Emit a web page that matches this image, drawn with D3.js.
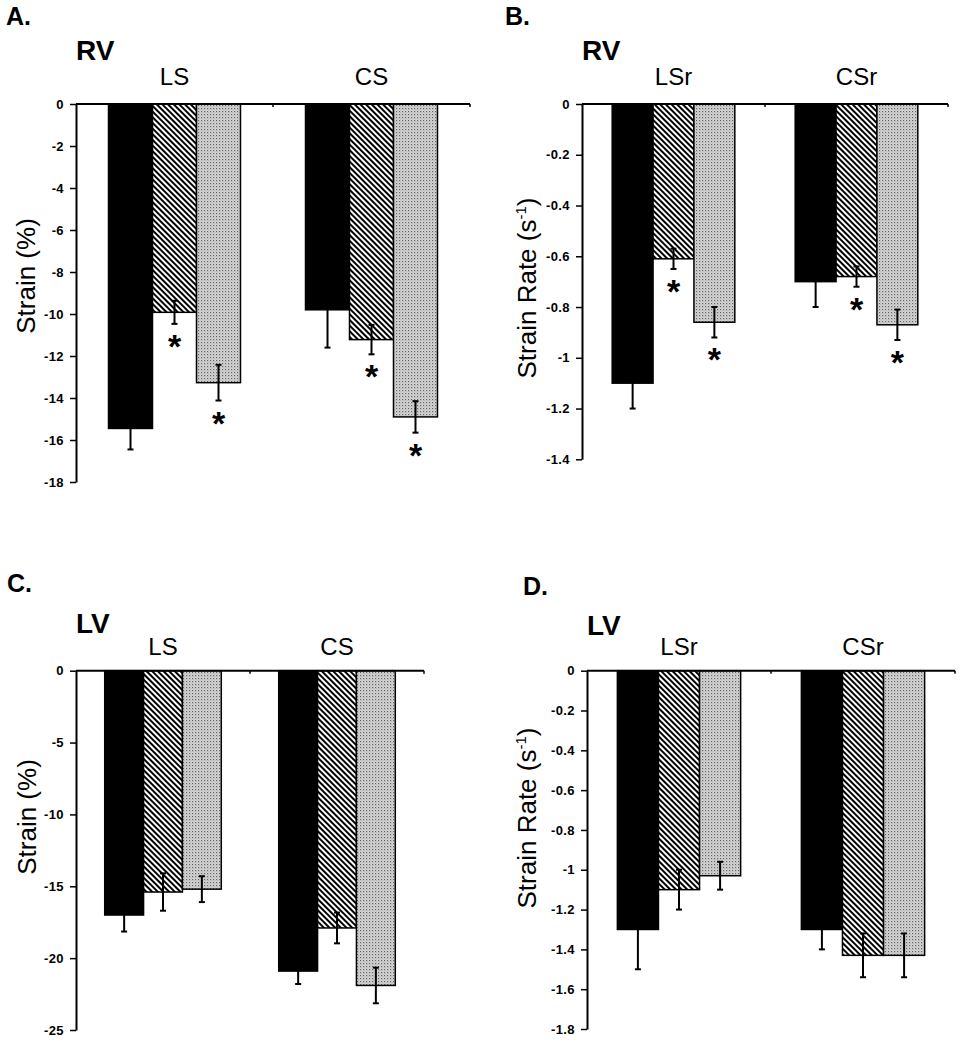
<!DOCTYPE html>
<html><head><meta charset="utf-8">
<script src="https://cdn.jsdelivr.net/npm/d3@7"></script>
<style>
body{margin:0;background:#fff}
svg{display:block}
text{font-family:"Liberation Sans", Arial, Helvetica, sans-serif;fill:#000}
</style>
</head><body>
<svg id="chart" width="963" height="1050"></svg>
<script>
// ---- data ----
const seriesKeys = ["black", "hatched", "dotted"];

const catsA = ["LS", "CS"];
const valsA = [[-15.45, -9.92, -13.27], [-9.8, -11.22, -14.9]];
const errA  = [[1.0, 0.55, 0.85], [1.8, 0.7, 0.75]];
const starA = [[0, 1, 1], [0, 1, 1]];
const ticksA = [0, -2, -4, -6, -8, -10, -12, -14, -16, -18];
const tickLabelsA = ["0", "-2", "-4", "-6", "-8", "-10", "-12", "-14", "-16", "-18"];

const catsB = ["LSr", "CSr"];
const valsB = [[-1.1, -0.61, -0.86], [-0.70, -0.68, -0.87]];
const errB  = [[0.1, 0.04, 0.06], [0.1, 0.04, 0.06]];
const starB = [[0, 1, 1], [0, 1, 1]];
const ticksB = [0, -0.2, -0.4, -0.6, -0.8, -1, -1.2, -1.4];
const tickLabelsB = ["0", "-0.2", "-0.4", "-0.6", "-0.8", "-1", "-1.2", "-1.4"];

const catsC = ["LS", "CS"];
const valsC = [[-17.0, -15.4, -15.2], [-20.9, -17.9, -21.9]];
const errC  = [[1.15, 1.3, 0.9], [0.9, 1.07, 1.24]];
const starC = [[0, 0, 0], [0, 0, 0]];
const ticksC = [0, -5, -10, -15, -20, -25];
const tickLabelsC = ["0", "-5", "-10", "-15", "-20", "-25"];

const catsD = ["LSr", "CSr"];
const valsD = [[-1.30, -1.10, -1.03], [-1.30, -1.43, -1.43]];
const errD  = [[0.2, 0.1, 0.07], [0.1, 0.11, 0.11]];
const starD = [[0, 0, 0], [0, 0, 0]];
const ticksD = [0, -0.2, -0.4, -0.6, -0.8, -1, -1.2, -1.4, -1.6, -1.8];
const tickLabelsD = ["0", "-0.2", "-0.4", "-0.6", "-0.8", "-1", "-1.2", "-1.4", "-1.6", "-1.8"];

// ---- layout ----
const panels = [
  {letter:"A.", title:"RV", ylab:["Strain (%)"], cats:catsA, vals:valsA, err:errA, star:starA, ticks:ticksA, labels:tickLabelsA,
   x0:76, x1:470, yTop:104, yBot:482, letterX:6, letterY:25, titleY:60, catY:85, ylabX:35, ylabY:276},
  {letter:"B.", title:"RV", ylab:["Strain Rate (s", "-1", ")"], cats:catsB, vals:valsB, err:errB, star:starB, ticks:ticksB, labels:tickLabelsB,
   x0:582, x1:948, yTop:104, yBot:459.3, letterX:505, letterY:25, titleY:60, catY:85, ylabX:536, ylabY:288},
  {letter:"C.", title:"LV", ylab:["Strain (%)"], cats:catsC, vals:valsC, err:errC, star:starC, ticks:ticksC, labels:tickLabelsC,
   x0:76, x1:424, yTop:670.7, yBot:1030, letterX:7, letterY:592, titleY:633, catY:655, ylabX:36, ylabY:817},
  {letter:"D.", title:"LV", ylab:["Strain Rate (s", "-1", ")"], cats:catsD, vals:valsD, err:errD, star:starD, ticks:ticksD, labels:tickLabelsD,
   x0:587, x1:955, yTop:670.7, yBot:1029, letterX:523, letterY:595, titleY:635, catY:655, ylabX:536, ylabY:818}
];

const svg = d3.select("#chart");
const defs = svg.append("defs");

// hatch pattern (\\\ direction)
const hp = defs.append("pattern").attr("id","hatch").attr("patternUnits","userSpaceOnUse")
  .attr("width",4).attr("height",4).attr("patternTransform","rotate(-45)");
hp.append("rect").attr("width",4).attr("height",4).attr("fill","#fff");
hp.append("rect").attr("width",2).attr("height",4).attr("fill","#000");

// dotted pattern
const dp = defs.append("pattern").attr("id","dots").attr("patternUnits","userSpaceOnUse")
  .attr("width",3).attr("height",3);
dp.append("rect").attr("width",3).attr("height",3).attr("fill","#d6d6d6");
dp.append("rect").attr("width",1.2).attr("height",1.2).attr("fill","#626262");
dp.append("rect").attr("x",1.5).attr("y",1.5).attr("width",1).attr("height",1).attr("fill","#a0a0a0");

const fills = {black:"#000", hatched:"url(#hatch)", dotted:"url(#dots)"};

panels.forEach(p => {
  const g = svg.append("g");
  const y = d3.scaleLinear().domain([0, p.ticks[p.ticks.length-1]]).range([p.yTop, p.yBot]);
  const x = d3.scaleBand().domain(p.cats).range([p.x0, p.x1]).paddingInner(0).paddingOuter(0);
  const gw = x.bandwidth() * 0.67;
  const xs = d3.scaleBand().domain(seriesKeys).range([0, gw]).padding(0);

  // panel letter, title
  g.append("text").attr("x", p.letterX).attr("y", p.letterY).attr("font-size", 25).attr("font-weight", "bold").text(p.letter);
  g.append("text").attr("x", p.x0).attr("y", p.titleY).attr("font-size", 28).attr("font-weight", "bold").text(p.title);

  // category labels
  g.selectAll(".cat").data(p.cats).join("text")
    .attr("x", d => x(d) + x.bandwidth()/2).attr("y", p.catY)
    .attr("text-anchor", "middle").attr("font-size", 24).text(d => d);

  // y label
  const yl = g.append("text").attr("transform", `translate(${p.ylabX},${p.ylabY}) rotate(-90)`)
    .attr("text-anchor", "middle").attr("font-size", 26);
  yl.append("tspan").text(p.ylab[0]);
  if (p.ylab.length > 1) {
    yl.append("tspan").attr("font-size", 15).attr("dy", -10).text(p.ylab[1]);
    yl.append("tspan").attr("dy", 10).text(p.ylab[2]);
  }

  // bars
  p.cats.forEach((c, ci) => {
    const gx = x(c) + (x.bandwidth() - gw) / 2;
    seriesKeys.forEach((s, si) => {
      const v = p.vals[ci][si];
      const bx = gx + xs(s);
      g.append("rect")
        .attr("x", bx).attr("y", y(0)).attr("width", xs.bandwidth()).attr("height", y(v) - y(0))
        .attr("fill", fills[s]).attr("stroke", "#000").attr("stroke-width", 1.5);
    });
  });

  // error bars & stars
  p.cats.forEach((c, ci) => {
    const gx = x(c) + (x.bandwidth() - gw) / 2;
    seriesKeys.forEach((s, si) => {
      const v = p.vals[ci][si], e = p.err[ci][si];
      const cx = gx + xs(s) + xs.bandwidth()/2;
      const yHi = y(v + e), yLo = y(v - e);
      g.append("line").attr("x1", cx).attr("x2", cx).attr("y1", yHi).attr("y2", yLo).attr("stroke", "#000").attr("stroke-width", 2);
      [yHi, yLo].forEach(yy => g.append("line").attr("x1", cx-3).attr("x2", cx+3).attr("y1", yy).attr("y2", yy).attr("stroke", "#000").attr("stroke-width", 2));
      if (p.star[ci][si]) {
        g.append("text").attr("x", cx).attr("y", yLo + 34).attr("text-anchor", "middle")
          .attr("font-size", 34).attr("font-weight", "bold").text("*");
      }
    });
  });

  // y axis
  const ax = d3.axisLeft(y).tickValues(p.ticks).tickFormat((d, i) => p.labels[i]).tickSize(6).tickSizeOuter(0).tickPadding(6);
  const ag = g.append("g").attr("transform", `translate(${p.x0},0)`).call(ax);
  ag.select(".domain").attr("stroke-width", 2);
  ag.selectAll(".tick line").attr("stroke-width", 1.5);
  ag.selectAll(".tick text").attr("font-size", 13).attr("font-weight", "bold").attr("letter-spacing", 0.4)
    .attr("font-family", "'Liberation Sans', Arial, sans-serif");

  // x axis line at zero
  g.append("line").attr("x1", p.x0).attr("x2", p.x1).attr("y1", y(0)).attr("y2", y(0)).attr("stroke", "#000").attr("stroke-width", 2);
  p.cats.forEach(c => {
    const bx = x(c) + x.bandwidth();
    g.append("line").attr("x1", bx).attr("x2", bx).attr("y1", y(0)).attr("y2", y(0) + 3).attr("stroke", "#000").attr("stroke-width", 1.5);
  });
});
</script>
</body></html>
